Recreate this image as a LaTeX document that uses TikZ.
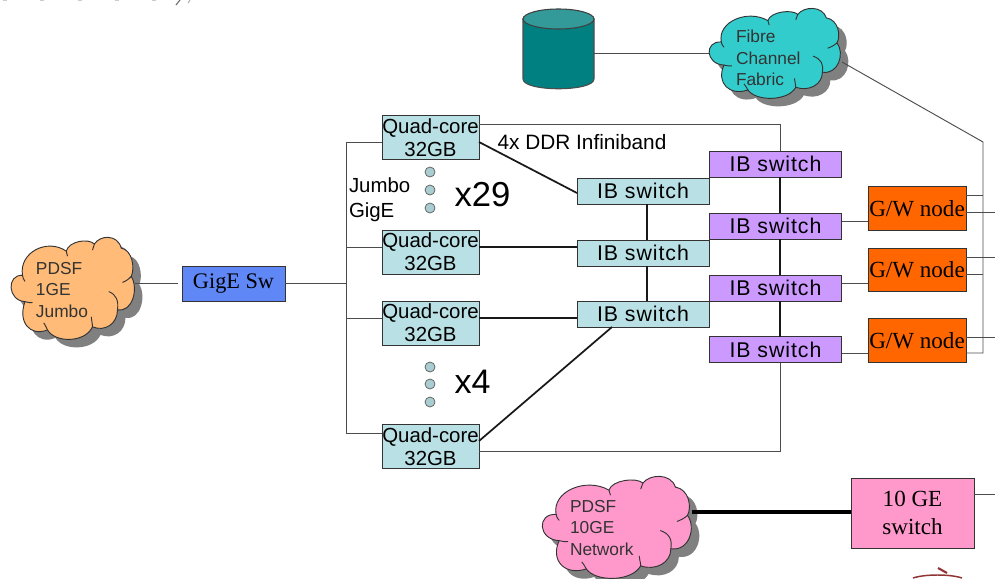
\documentclass[tikz,border=0pt]{standalone}
\usepackage{fontspec}
\setmainfont{Liberation Sans}
\newfontfamily\serifface{Liberation Serif}
\newfontfamily\ibface[LetterSpace=4.4]{Liberation Sans}
\definecolor{paleblue}{HTML}{B9E0E4}
\definecolor{ibpurple}{HTML}{CC99FF}
\definecolor{gworange}{HTML}{FF6600}
\definecolor{gigeblue}{HTML}{5F87F5}
\definecolor{pinkish}{HTML}{FF99CC}
\definecolor{fibreteal}{HTML}{33CCCC}
\definecolor{tanorange}{HTML}{FFBB77}
\definecolor{dbteal}{HTML}{008080}
\definecolor{dbtop}{HTML}{339999}
\definecolor{dotfill}{HTML}{A9CDD0}
\definecolor{shadowgray}{HTML}{808080}
\tikzset{
  x=0.75pt,y=-0.75pt,
  every node/.style={inner sep=0pt,outer sep=0pt},
  boxbase/.style={draw=black!80,line width=0.75pt,rectangle,align=center},
  quadbox/.style={boxbase,fill=paleblue,minimum width=72.75pt,minimum height=33pt,font=\fontsize{15.3}{17.3}\selectfont},
  ibbox/.style={boxbase,fill=paleblue,minimum width=99pt,minimum height=19.5pt,font=\ibface\fontsize{16}{18}\selectfont},
  ibpbox/.style={ibbox,fill=ibpurple},
  gwbox/.style={boxbase,fill=gworange,minimum width=73.5pt,minimum height=32.5pt,font=\serifface\fontsize{17.3}{19}\selectfont},
  wire/.style={draw=black!70,line width=0.7pt},
  ibwire/.style={draw=black!90,line width=1.3pt},
  cloudlabel/.style={align=left,anchor=west,font=\fontsize{13}{16}\selectfont,text=black!80},
  dotmark/.style={circle,draw=black!60,fill=dotfill,line width=0.6pt,minimum size=7.5pt},
}
\newcommand{\puffs}{
  (.10,.37) .. controls (.07,.14) and (.30,.00) .. (.45,.13)
  .. controls (.47,.03) and (.63,.00) .. (.675,.06)
  .. controls (.72,-.03) and (.86,-.04) .. (.89,.10)
  .. controls (.98,.12) and (1.0,.30) .. (.97,.38)
  .. controls (1.03,.50) and (.98,.74) .. (.86,.71)
  .. controls (.86,.85) and (.76,.93) .. (.66,.88)
  .. controls (.60,1.04) and (.36,1.04) .. (.30,.91)
  .. controls (.16,.98) and (.06,.83) .. (.12,.63)
  .. controls (-.02,.62) and (-.03,.36) .. (.10,.37) -- cycle}
\newcommand{\cloudat}[5]{% x y w h colour
  \begin{scope}[shift={(#1+8,#2+8)},x=#3*0.75pt,y=-#4*0.75pt]
    \fill[shadowgray] \puffs;
  \end{scope}
  \begin{scope}[shift={(#1,#2)},x=#3*0.75pt,y=-#4*0.75pt]
    \filldraw[fill=#5,draw=black!80,line width=0.7pt] \puffs;
    \draw[black!80,line width=0.7pt]
      (.79,.53) .. controls (.85,.56) and (.87,.62) .. (.86,.71)
      (.97,.38) .. controls (.95,.41) and (.92,.43) .. (.90,.44)
      (.66,.88) .. controls (.66,.84) and (.65,.81) .. (.65,.78)
      (.30,.91) .. controls (.29,.88) and (.28,.86) .. (.27,.84)
      (.12,.63) .. controls (.14,.64) and (.16,.64) .. (.18,.64)
      (.10,.37) .. controls (.10,.39) and (.11,.41) .. (.12,.43)
      (.45,.13) .. controls (.45,.15) and (.46,.16) .. (.46,.18)
      (.675,.06) .. controls (.67,.08) and (.665,.10) .. (.66,.12);
  \end{scope}}
\begin{document}
\begin{tikzpicture}
\useasboundingbox (0,0) rectangle (995,578);
% cut-off fragments at the picture edges
\draw[black!60,line width=0.8pt] (176,5) -- (180,0);
\draw[black!35,line width=0.7pt] (188,3) -- (190,0);
\draw[black!20,line width=1pt,dash pattern=on 3pt off 25pt] (3,0.5) -- (165,0.5);
\draw[red!45!black!80,line width=1.1pt] (913,578) .. controls (925,574) and (950,574) .. (962,578);
\draw[red!45!black!80,line width=1.6pt] (938,568) -- (947,573);

% named points
\coordinate (fcW) at (710,53);
\coordinate (fcE) at (842,62);
\coordinate (fcC) at (983,142);
\coordinate (jE) at (135,283);
\coordinate (swGap) at (178,283);
\coordinate (busTop) at (346,142);
\coordinate (busBot) at (346,433);
\coordinate (gigeOut) at (346,283);
\coordinate (q1corner) at (780,124);
\coordinate (q4corner) at (780,451);
\coordinate (netE) at (692,512);
\coordinate (gwBus) at (983,195);
\coordinate (gwBusB) at (983,353);

% database
\node[rectangle,minimum width=53.25pt,minimum height=60pt] (db) at (558.5,49) {};
\filldraw[fill=dbteal,draw=black!70,line width=0.8pt] (523,19) -- (523,79)
   .. controls (523,92) and (594,92) .. (594,79) -- (594,19) -- cycle;
\filldraw[fill=dbtop,draw=black!75,line width=0.8pt] (558.5,19) ellipse [x radius=35.5,y radius=10];

% nodes
\node[quadbox] (q1) at (430.5,137.5) {Quad-core\\32GB};
\node[quadbox] (q2) at (430.5,252) {Quad-core\\32GB};
\node[quadbox] (q3) at (430.5,323) {Quad-core\\32GB};
\node[quadbox] (q4) at (430.5,446.5) {Quad-core\\32GB};
\node[ibbox] (s1) at (643,191) {IB switch};
\node[ibbox] (s2) at (643,253) {IB switch};
\node[ibbox] (s3) at (643,314) {IB switch};
\node[ibpbox] (p1) at (775.5,164) {IB switch};
\node[ibpbox] (p2) at (775.5,226) {IB switch};
\node[ibpbox] (p3) at (775.5,288) {IB switch};
\node[ibpbox] (p4) at (775.5,349.5) {IB switch};
\node[gwbox] (g1) at (917,208.5) {G/W node};
\node[gwbox] (g2) at (917,270) {G/W node};
\node[gwbox] (g3) at (917,340.5) {G/W node};
\node[boxbase,fill=gigeblue,minimum width=77.25pt,minimum height=26.25pt,font=\serifface\fontsize{16.7}{18}\selectfont] (sw) at (233.5,283.5) {GigE Sw};
\node[boxbase,fill=pinkish,minimum width=92.25pt,minimum height=52.5pt,font=\serifface\fontsize{17.3}{21}\selectfont] (ten) at (912.5,513) {10 GE\\switch};

% wires
\draw[wire] (sw.east |- gigeOut) -- (gigeOut);
\draw[wire] (q1.west |- busTop) -- (busTop) -- (busBot) -- (q4.west |- busBot);
\draw[wire] (q2.west |- 0,247) -- (busTop |- 0,247);
\draw[wire] (q3.west |- 0,318) -- (busTop |- 0,318);
\draw[wire] (db.east |- fcW) -- (fcW);
\draw[wire] (g1.east |- gwBus) -- (gwBus);
\draw[wire] (g2.east |- 0,274) -- (983,274);
\draw[wire] (g1.east |- 0,212) -- (995,212);
\draw[wire] (g2.east |- 0,257) -- (995,257);
\draw[wire] (g3.east |- 0,337) -- (995,337);
\draw[wire] (ten.east |- 0,494) -- (995,494);
\draw[wire] (q1.east |- q1corner) -- (q1corner) -- (q1corner |- p1.north);
\draw[wire] (q4.east |- q4corner) -- (q4corner) -- (q4corner |- p4.south);
\draw[wire] (p2.east |- 0,221) -- (g1.west |- 0,221);
\draw[wire] (p3.east |- 0,283) -- (g2.west |- 0,283);
\draw[wire] (p4.east |- 0,353) -- (g3.west |- 0,353);
\draw[ibwire] (q1.east |- 0,142) -- (s1.west |- 0,193);
\draw[ibwire] (q2.east |- 0,247) -- (s2.west |- 0,247);
\draw[ibwire] (q3.east |- 0,318) -- (s3.west |- 0,318);
\draw[ibwire] (q4.east |- 0,441) -- (612,0 |- s3.south);
\draw[ibwire] (647,0 |- s1.south) -- (647,0 |- s2.north);
\draw[ibwire] (647,0 |- s2.south) -- (647,0 |- s3.north);
\draw[ibwire] (q1corner |- p1.south) -- (q1corner |- p2.north);
\draw[ibwire] (q1corner |- p2.south) -- (q1corner |- p3.north);
\draw[ibwire] (q1corner |- p3.south) -- (q1corner |- p4.north);

% clouds
\cloudat{10}{238}{125}{101}{tanorange}
\cloudat{708}{9}{133}{89}{fibreteal}
\cloudat{541}{477}{151}{101}{pinkish}
\node[cloudlabel] (lj) at (36,290) {PDSF\\1GE\\Jumbo};
\node[cloudlabel] (lf) at (736,58) {Fibre\\Channel\\Fabric};
\node[cloudlabel] (ln) at (570,528) {PDSF\\10GE\\Network};

% wires that start on a cloud's edge, over its shadow
\draw[wire] (jE) -- (swGap);
\draw[wire] (fcE) -- (fcC) -- (gwBusB) -- (g3.east |- gwBusB);
\draw[draw=black,line width=2.6pt] (netE) -- (ten.west |- netE);

% labels
\node[font=\fontsize{15.6}{18}\selectfont] (ddr) at (582,142) {4x DDR Infiniband};
\node[align=left,anchor=west,font=\fontsize{15.3}{18.7}\selectfont] (jg) at (349,199.5) {Jumbo\\GigE};
\node[font=\fontsize{26}{28}\selectfont] (x29) at (482.5,195) {x29};
\node[font=\fontsize{25.5}{28}\selectfont] (x4) at (472.5,382) {x4};
\node[dotmark] (d1) at (430,172) {};
\node[dotmark] (d2) at (430,190) {};
\node[dotmark] (d3) at (430,208) {};
\node[dotmark] (d4) at (430,367) {};
\node[dotmark] (d5) at (430,384) {};
\node[dotmark] (d6) at (430,402) {};
\end{tikzpicture}
\end{document}
